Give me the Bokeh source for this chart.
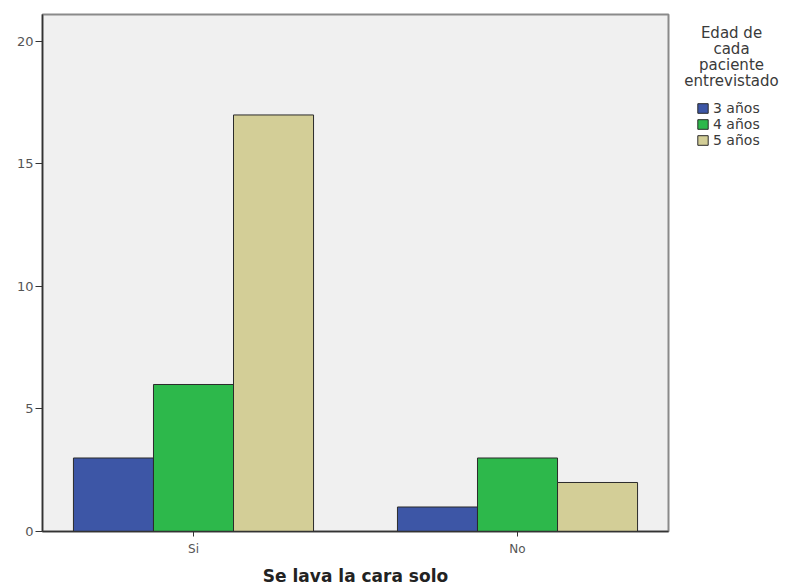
from bokeh.plotting import figure
from bokeh.layouts import row
from bokeh.models import (ColumnDataSource, Range1d, FixedTicker, Legend, LegendItem, Label)
from bokeh.embed import file_html
from bokeh.resources import INLINE

categories = ["Si", "No"]
cat_pos = [1, 2]
ages = ["3 años", "4 años", "5 años"]
values_3 = [3, 1]
values_4 = [6, 3]
values_5 = [17, 2]
colors = ["#3d56a6", "#2db84b", "#d3ce97"]
legend_title_lines = ["Edad de", "cada", "paciente", "entrevistado"]
x_label = "Se lava la cara solo"
y_ticks = [0, 5, 10, 15, 20]

FONT = "DejaVu Sans"
bar_w = 0.247
offsets = [-bar_w, 0.0, bar_w]

p = figure(frame_width=626, frame_height=517, output_backend="svg", toolbar_location=None,
           x_range=Range1d(0.534, 2.466), y_range=Range1d(0, 21.1),
           min_border_left=42, min_border_right=2, min_border_top=14, min_border_bottom=56)

p.background_fill_color = "#f0f0f0"
p.border_fill_color = "white"
p.outline_line_color = "#8a8a8a"
p.outline_line_width = 2
p.xgrid.visible = False
p.ygrid.visible = False

for vals, off, col in zip([values_3, values_4, values_5], offsets, colors):
    src = ColumnDataSource(dict(x=[c + off for c in cat_pos], top=vals))
    p.vbar(x="x", top="top", width=bar_w, bottom=0, source=src,
           fill_color=col, line_color="#2b2b2b", line_width=1)

# axes
p.xaxis.ticker = FixedTicker(ticks=cat_pos)
p.xaxis.major_label_overrides = {c: lab for c, lab in zip(cat_pos, categories)}
p.xaxis.axis_label = x_label
p.xaxis.axis_label_text_font = FONT
p.xaxis.axis_label_text_font_style = "bold"
p.xaxis.axis_label_text_font_size = "17px"
p.xaxis.axis_label_text_color = "#222222"
p.xaxis.axis_label_standoff = 7
p.xaxis.major_label_text_font = FONT
p.xaxis.major_label_text_font_size = "12px"
p.xaxis.major_label_text_color = "#555555"
p.xaxis.major_label_standoff = 5
p.xaxis.major_tick_out = 5
p.xaxis.major_tick_in = 0
p.xaxis.minor_tick_line_color = None
p.xaxis.axis_line_color = "#333333"
p.xaxis.axis_line_width = 1.5
p.xaxis.major_tick_line_color = "#333333"

p.yaxis.ticker = FixedTicker(ticks=y_ticks)
p.yaxis.major_label_text_font = FONT
p.yaxis.major_label_text_font_size = "13px"
p.yaxis.major_label_text_color = "#555555"
p.yaxis.major_label_standoff = 2
p.yaxis.major_tick_out = 7
p.yaxis.major_tick_in = 0
p.yaxis.minor_tick_line_color = None
p.yaxis.axis_line_color = "#333333"
p.yaxis.axis_line_width = 1.5
p.yaxis.major_tick_line_color = "#333333"

# --- legend panel (separate figure to the right; its frame aligns with p's frame) ---
W2, H2 = 115, 587
FRAME_BOTTOM = 531  # screen y of the aligned frame bottom
p2 = figure(width=W2, height=H2, output_backend="svg", toolbar_location=None,
            x_range=Range1d(0, 1), y_range=Range1d(0, 1),
            min_border_left=0, min_border_right=0, min_border_top=0, min_border_bottom=0,
            x_axis_type=None, y_axis_type=None)
p2.outline_line_color = None
p2.background_fill_color = "white"
p2.border_fill_color = "white"
p2.xgrid.visible = False
p2.ygrid.visible = False

for i, line in enumerate(legend_title_lines):
    p2.add_layout(Label(x=61, y=FRAME_BOTTOM - 33 - i * 16, x_units="screen", y_units="screen",
                        text=line, text_align="center", text_baseline="middle",
                        text_font=FONT, text_font_size="15px", text_color="#3a3a3a"))

key_renderers = []
for col in colors:
    key_src = ColumnDataSource(dict(x=[float("nan")], top=[float("nan")]))
    key_renderers.append(p2.vbar(x="x", top="top", width=1, source=key_src,
                                 fill_color=col, line_color="#2b2b2b", line_width=1))

legend = Legend(items=[LegendItem(label=a, renderers=[r]) for a, r in zip(ages, key_renderers)],
                location=(26, FRAME_BOTTOM - 149))
legend.label_text_font = FONT
legend.label_text_font_size = "14px"
legend.label_text_color = "#3a3a3a"
legend.glyph_width = 13
legend.glyph_height = 12
legend.label_standoff = 4
legend.spacing = 0
legend.padding = 0
legend.margin = 0
legend.border_line_color = None
legend.background_fill_alpha = 0
legend.label_height = 12
p2.add_layout(legend, "center")

layout = row(p, p2)
open("out.html", "w").write(file_html(layout, INLINE))
